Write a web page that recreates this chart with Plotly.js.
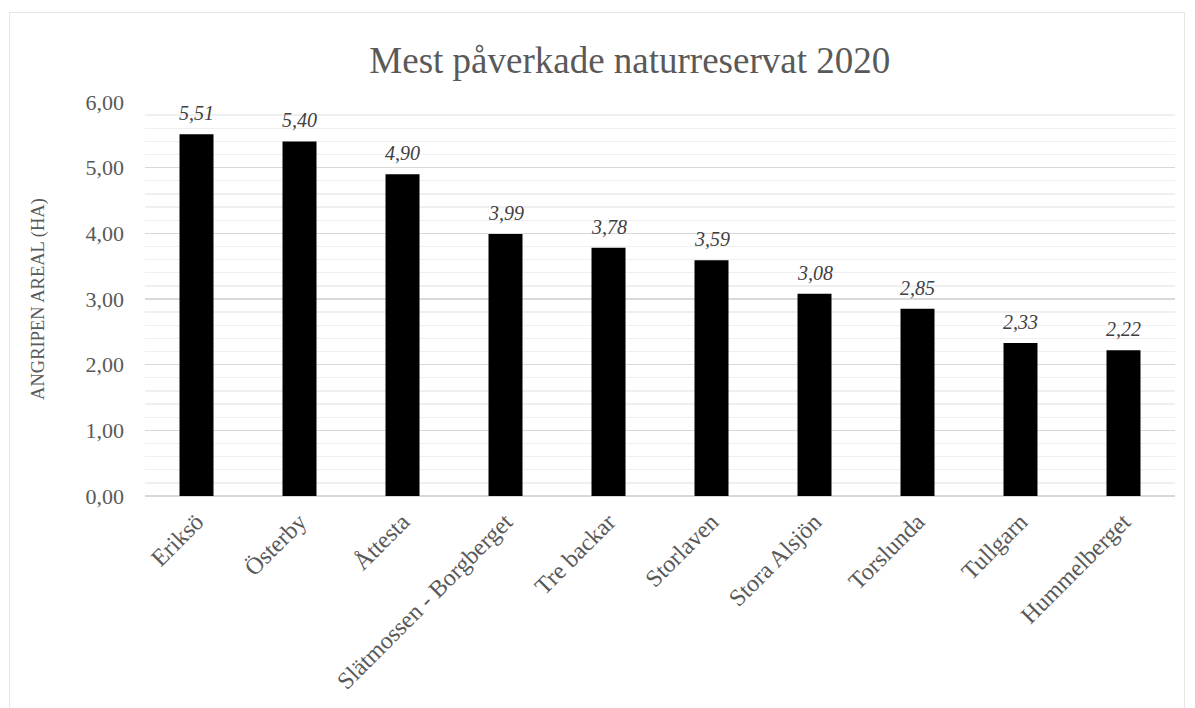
<!DOCTYPE html>
<html><head><meta charset="utf-8">
<script src="https://cdn.plot.ly/plotly-3.0.1.min.js"></script>
<style>
html,body{margin:0;padding:0;background:#fff;}
#wrap{position:relative;width:1195px;height:708px;}
#frame{position:absolute;left:9px;top:12px;width:1176px;height:700px;border:1px solid #e6e6e6;box-sizing:border-box;pointer-events:none;}
#chart{position:absolute;left:0;top:0;width:1195px;height:708px;}
</style></head>
<body>
<div id="wrap"><div id="chart"></div><div id="frame"></div></div>
<script>
const categories = ["Eriksö","Österby","Åttesta","Slätmossen - Borgberget","Tre backar","Storlaven","Stora Alsjön","Torslunda","Tullgarn","Hummelberget"];
const values = [5.51, 5.40, 4.90, 3.99, 3.78, 3.59, 3.08, 2.85, 2.33, 2.22];
const tickVals = [0,1,2,3,4,5,6];
const tickText = ["0,00","1,00","2,00","3,00","4,00","5,00","6,00"];
const labels = values.map(v => v.toFixed(2).replace(".", ","));

const serif = "Liberation Serif, Times New Roman, serif";
const annotations = categories.map((c, i) => ({
  x: c, y: values[i], xref: "x", yref: "y",
  text: labels[i], showarrow: false,
  yanchor: "bottom", yshift: 8,
  font: {family: serif, size: 20, color: "#404040", style: "italic"}
}));

Plotly.newPlot("chart", [{
  type: "bar",
  x: categories,
  y: values,
  width: 0.33,
  marker: {color: "#000000"},
  hoverinfo: "x+y"
}], {
  width: 1195, height: 708,
  margin: {l: 145, r: 20, t: 102, b: 212},
  paper_bgcolor: "rgba(0,0,0,0)",
  plot_bgcolor: "#ffffff",
  title: {text: "Mest påverkade naturreservat 2020", font: {family: serif, size: 37, color: "#595959"}, x: 0.527, xanchor: "center", y: 0.915, yanchor: "middle"},
  annotations: annotations,
  xaxis: {
    tickangle: -45,
    tickfont: {family: serif, size: 24, color: "#595959"},
    showgrid: false, zeroline: false, showline: false, ticks: "", automargin: false,
    ticklabelstandoff: 6
  },
  yaxis: {
    range: [0, 6],
    tickvals: tickVals, ticktext: tickText,
    tickfont: {family: serif, size: 22, color: "#595959"},
    showgrid: true, gridcolor: "#d9d9d9", gridwidth: 1.3,
    minor: {dtick: 0.2, showgrid: true, gridcolor: "#efefef", gridwidth: 1.3, tick0: 0},
    zeroline: true, zerolinecolor: "#d9d9d9", zerolinewidth: 1.3,
    ticks: "", ticklabelstandoff: 20,
    title: {text: "ANGRIPEN AREAL (HA)", font: {family: serif, size: 18.5, color: "#595959"}, standoff: 36},
    automargin: false
  },
  showlegend: false
}, {displayModeBar: false, staticPlot: true});
</script>
</body></html>
